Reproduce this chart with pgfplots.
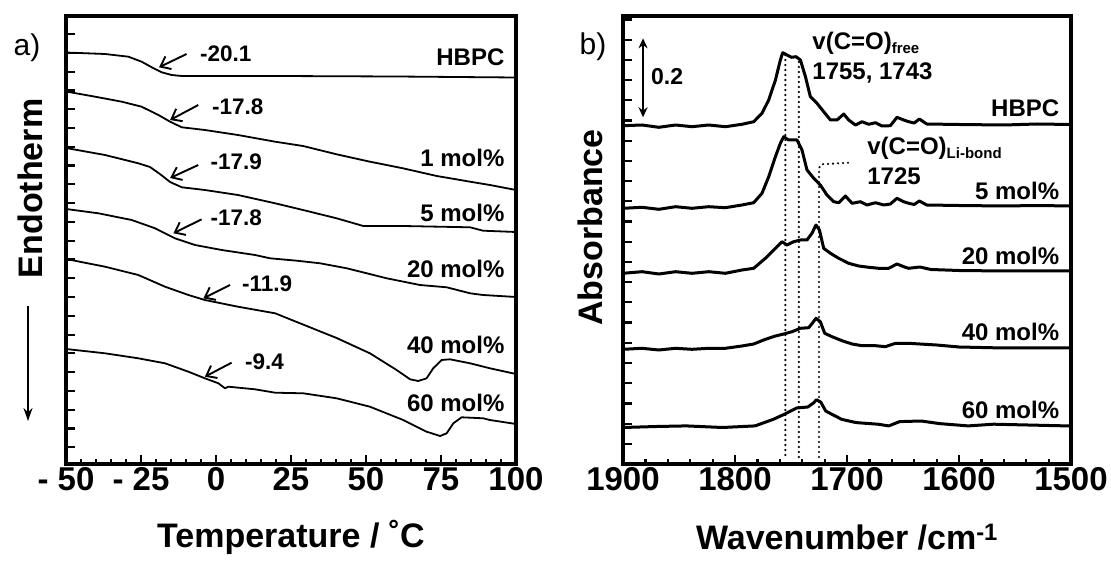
\documentclass[border=0pt]{standalone}
\usepackage{fontspec}
\setmainfont{Liberation Sans}
\usepackage{pgfplots}
\pgfplotsset{compat=1.18}
\usetikzlibrary{arrows.meta}
\newcommand{\fs}[1]{\fontsize{#1}{#1}\selectfont\bfseries}
\begin{document}
\begin{tikzpicture}
\path[use as bounding box] (0,0) rectangle (1111pt,560pt);
\pgfplotsset{every axis/.append style={scale only axis, anchor=south west, clip=false,
  tick align=inside, xtick pos=bottom, ytick pos=left,
  axis line style={line width=3.2pt}, tick style={black,line width=2.2pt},
  major tick length=9pt, minor tick length=5pt, minor x tick num=4,
  yticklabels={}, ymin=0, ymax=448,
  xticklabel style={font=\fs{33}}}}
% ---------------- left panel ----------------
\begin{axis}[at={(66pt,96pt)}, width=450pt, height=448pt,
  xmin=-50, xmax=100, xtick={-50,-25,0,25,50,75,100},
  xticklabels={- 50,- 25,0,25,50,75,100},
  ytick={16.7,35.48,...,448}]
\tikzset{dsc/.style={black, line width=1.8pt, line join=round}}
\addplot[dsc] coordinates {(-50,411.5) (-37,410) (-29.2,407.3) (-24.8,402.3) (-21.4,396.7) (-18.1,391.7) (-14.8,389) (-11.4,388) (20,388) (60,387.5) (100,386.5)};
\addplot[dsc] coordinates {(-50,372.5) (-40.3,367.3) (-31.4,362.3) (-24.8,357.3) (-19.2,349) (-15.3,342.3) (-11.4,336.7) (-3.7,334) (7.3,329) (19.7,322.3) (29,318) (40.2,309.7) (51.3,302.3) (62.3,295.7) (73.6,288) (84.7,282.3) (91.3,279) (100,274)};
\addplot[dsc] coordinates {(-50,316) (-37,309) (-25.9,300.7) (-22,297) (-18.7,290) (-15.3,282) (-11.4,276.7) (-3.7,274) (7.3,269) (19.7,260.7) (29,254) (40.2,245.7) (49.1,238) (62.3,238) (84.7,236.7) (89,233.3) (100,232)};
\addplot[dsc] coordinates {(-50,255) (-39.2,250.7) (-28.1,244) (-20.3,235.7) (-13.7,225.7) (-7,219) (1.9,214) (13,209) (18,205.7) (26.9,203.3) (34.7,200.7) (43.6,195.7) (56.9,185.7) (68,179) (76.9,176.7) (84.7,170.7) (89,169) (100,167)};
\addplot[dsc] coordinates {(-50,205) (-37,197.3) (-25.9,189) (-17,177.3) (-9.2,169) (-3.7,164) (7.3,157.3) (19.7,150.7) (28,140.7) (40.2,126) (51.3,110.7) (60.2,94) (64.7,84.7) (67.4,83) (70.2,85.7) (72.4,95.7) (75.2,104) (78,104.7) (84.7,100.7) (91.3,95.7) (100,90)};
\addplot[dsc] coordinates {(-50,115) (-37,110.7) (-25.9,105.7) (-17,100.7) (-9.2,92.3) (-3.7,85.7) (0.8,80.7) (3,75.7) (4.1,77.3) (13,74.7) (19.7,71.3) (29.1,70.7) (40.2,65.7) (51.3,57.3) (62.4,44) (70.2,32.3) (74.7,28) (76.9,30.7) (79.1,40.7) (81.9,46.7) (89.1,45.7) (91.3,44) (100,40)};
% arrows and Tg labels
\tikzset{tg/.style={-{Straight Barb[length=9pt,width=14pt]}, line width=1.9pt}}
\draw[tg] (axis cs:-9.8,410) -- (axis cs:-19,396.7);
\node[anchor=west, font=\fs{22.5}] at (axis cs:-6.5,410) {-20.1};
\draw[tg] (axis cs:-5.9,359) -- (axis cs:-15.3,344);
\node[anchor=west, font=\fs{22.5}] at (axis cs:-2.5,357.3) {-17.8};
\draw[tg] (axis cs:-5.9,299) -- (axis cs:-15.3,286);
\node[anchor=west, font=\fs{22.5}] at (axis cs:-3,302.3) {-17.9};
\draw[tg] (axis cs:-4.8,244.7) -- (axis cs:-14.2,230.7);
\node[anchor=west, font=\fs{22.5}] at (axis cs:-3,246.3) {-17.8};
\draw[tg] (axis cs:4.7,179) -- (axis cs:-4.2,165.7);
\node[anchor=west, font=\fs{22.5}] at (axis cs:7.5,180.7) {-11.9};
\draw[tg] (axis cs:5.2,101.3) -- (axis cs:-3.7,87.3);
\node[anchor=west, font=\fs{22.5}] at (axis cs:8.5,102.3) {-9.4};
% sample labels
\node[anchor=base east, font=\fs{24}] at (axis cs:97.3,398) {HBPC};
\node[anchor=base east, font=\fs{24}] at (axis cs:97.3,297) {1 mol\%};
\node[anchor=base east, font=\fs{24}] at (axis cs:97.3,242.3) {5 mol\%};
\node[anchor=base east, font=\fs{24}] at (axis cs:97.3,186) {20 mol\%};
\node[anchor=base east, font=\fs{24}] at (axis cs:97.3,110.7) {40 mol\%};
\node[anchor=base east, font=\fs{24}] at (axis cs:97.3,52.3) {60 mol\%};
\end{axis}
% ---------------- right panel ----------------
\begin{axis}[at={(623pt,96pt)}, width=448pt, height=448pt,
  xmin=1500, xmax=1900, x dir=reverse, xtick={1500,1600,1700,1800,1900},
  xticklabels={1500,1600,1700,1800,1900},
  ytick={20.2,40.4,...,446}]
\tikzset{sp/.style={black, line width=3pt, line join=round}}
\addplot[sp] coordinates {(1900,338.3) (1883,339) (1868,336.7) (1853,339) (1838.4,337.3) (1823.5,339) (1808.6,337.3) (1793.8,339.7) (1783.3,342.3) (1775.9,350.7) (1769.9,364) (1763.9,384) (1759.5,404) (1757.4,411.3) (1753.6,409) (1749.6,406.7) (1745.5,407.3) (1741.6,404) (1737.1,387.3) (1732.7,367.3) (1726.8,360.7) (1720.8,352.3) (1714.8,344) (1708.9,344) (1702.9,350) (1698.5,344) (1692.5,339) (1686.6,342.3) (1680.6,339.7) (1674.6,341.3) (1668.8,338) (1661.3,338.3) (1655.4,346.7) (1649.4,344) (1644.9,342.3) (1640,341) (1635.4,345) (1628.8,340) (1600,339.5) (1560,339) (1530,340) (1500,339.5)};
\addplot[sp] coordinates {(1900,255.7) (1883,256.7) (1868,254.7) (1853,257.3) (1838.4,255.7) (1823.5,257.3) (1808.6,256.3) (1793.8,259) (1783.3,261.3) (1775.9,270.7) (1769.9,287.3) (1763.9,307.3) (1759.5,320.7) (1756.5,327.3) (1752.1,324) (1744.6,324) (1740.2,314) (1735.7,294) (1729.7,285.7) (1723.8,279) (1717.9,269) (1711.9,262.3) (1707.4,261.3) (1701.4,268) (1695.5,260.7) (1688,262.3) (1682.1,259) (1674.6,261.3) (1667.2,259) (1661.3,260) (1655.4,265.7) (1649.4,262.3) (1644.9,260.7) (1640,259.5) (1635.4,263) (1628.8,259) (1600,258.5) (1560,258) (1530,258.5) (1500,258)};
\addplot[sp] coordinates {(1900,190.7) (1883,192.3) (1868,190) (1853,192.3) (1838.4,190.7) (1823.5,192.3) (1808.6,190.7) (1793.8,194) (1783.3,195.7) (1772.9,205.7) (1763.9,215.7) (1758,222.3) (1753.6,219) (1747.6,222.3) (1741.6,224) (1735.7,224) (1731.3,230.7) (1727.7,239) (1724.6,234) (1720.8,215.7) (1714.8,210.7) (1707.4,205.7) (1698.5,200.7) (1689.6,198) (1680.6,196.7) (1671.7,195.7) (1662.8,195.7) (1655.4,200) (1647.9,196.7) (1644.9,195.7) (1635,197) (1625,194.5) (1600,193.5) (1560,193) (1500,193)};
\addplot[sp] coordinates {(1900,114.7) (1883,115.7) (1868,114) (1853,115.7) (1838.4,114.7) (1823.5,115.7) (1808.6,115.7) (1793.8,118) (1783.3,120) (1772.9,124.7) (1763.9,128) (1756.5,130) (1749.1,132.3) (1741.6,135.7) (1734.2,136.3) (1730.6,141.3) (1727.7,145.7) (1723.8,142.3) (1719.9,130.7) (1713.4,127.3) (1704.5,123.3) (1695.5,120) (1686.6,118.3) (1674.6,118.3) (1665.7,117.3) (1656.8,120.7) (1644.9,120.7) (1635,120) (1620,119) (1600,117) (1560,116) (1500,116)};
\addplot[sp] coordinates {(1900,36.5) (1870,37.5) (1843.5,38.1) (1811.2,36.5) (1782.1,38.1) (1766,44.6) (1756.3,49.5) (1745,56) (1735,57) (1730,61) (1727.2,64.2) (1723.5,62) (1719,53) (1714,50) (1704.6,44.6) (1691.8,41.4) (1672.4,39.8) (1662.7,38.1) (1653,42.4) (1633.7,43) (1617.5,40.4) (1591.7,38.1) (1569.1,39.8) (1500,38)};
% dotted guide lines
\tikzset{dt/.style={line width=2.4pt, line cap=round, dash pattern=on 0pt off 5pt}}
\draw[dt] (axis cs:1755,409) -- (axis cs:1755,7);
\draw[dt] (axis cs:1743,402) -- (axis cs:1743,7);
\draw[dt] (axis cs:1725,7) -- (axis cs:1725,296) -- (axis cs:1722.7,299.7) -- (axis cs:1698.5,301.3);
% annotations
\node[anchor=west, font=\fs{24}] at (axis cs:1734,420.7) {v(C=O)\textsubscript{\fs{15}free}};
\node[anchor=west, font=\fs{24}] at (axis cs:1734,390.7) {1755, 1743};
\node[anchor=west, font=\fs{24}] at (axis cs:1685,315.7) {v(C=O)\textsubscript{\fs{15}Li-bond}};
\node[anchor=west, font=\fs{24}] at (axis cs:1685,287.3) {1725};
\draw[{Stealth[length=10pt,width=9pt]}-{Stealth[length=10pt,width=9pt]}, line width=1.7pt] (axis cs:1882.1,425.7) -- (axis cs:1882.1,346.7);
\node[anchor=west, font=\fs{23}] at (axis cs:1878,387.3) {0.2};
\node[anchor=base east, font=\fs{24}] at (axis cs:1507.4,347) {HBPC};
\node[anchor=base east, font=\fs{24}] at (axis cs:1507.4,264) {5 mol\%};
\node[anchor=base east, font=\fs{24}] at (axis cs:1507.4,199) {20 mol\%};
\node[anchor=base east, font=\fs{24}] at (axis cs:1507.4,123) {40 mol\%};
\node[anchor=base east, font=\fs{24}] at (axis cs:1507.4,46) {60 mol\%};
\end{axis}
% outer labels
\node[font=\fs{34}] at (291pt,23pt) {Temperature / ˚C};
\node[font=\fs{34}] at (847pt,23pt) {Wavenumber /cm\textsuperscript{-1}};
\node[font=\fs{34}, rotate=90] at (30pt,371.5pt) {Endotherm};
\node[font=\fs{34}, rotate=90] at (590pt,332.5pt) {Absorbance};
\draw[-{Stealth[length=13pt,width=9pt]}, line width=1.7pt] (28pt,254pt) -- (28pt,139pt);
\node[font=\fontsize{30}{30}\selectfont] at (27pt,512pt) {a)};
\node[font=\fontsize{30}{30}\selectfont] at (593pt,513pt) {b)};
\end{tikzpicture}
\end{document}
